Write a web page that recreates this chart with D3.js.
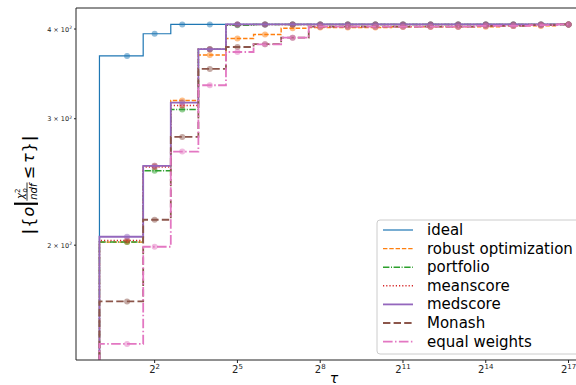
<!DOCTYPE html>
<html><head><meta charset="utf-8">
<script src="https://cdn.jsdelivr.net/npm/d3@7/dist/d3.min.js"></script>
<style>
body{margin:0;background:#fff;}
svg{display:block;font-family:"DejaVu Sans",sans-serif;}
</style>
</head><body>
<svg id="c" width="576" height="385"></svg>
<script>
// ---- data ----
const tauValues = [0,2,4,8,16,32,64,128,256,512,1024,2048,4096,8192,16384,32768,65536,131072];
const seriesNames = ["ideal","robust optimization","portfolio","meanscore","medscore","Monash","equal weights"];
const ideal      = [0,367,394,406,406,406,406,406,406,406,406,406,406,406,406,406,406,406];
const robust     = [0,202,258,318,368,388,393,401,402,402,402,403,403,403,403,404,404,406];
const portfolio  = [0,202,254,309,375,405,406,406,406,406,406,406,406,406,406,406,406,406];
const meanscore  = [0,203,257,313,375,406,406,406,406,406,406,406,406,406,406,406,406,406];
const medscore   = [0,205.5,258,316,375,406,406,406,406,406,406,406,406,406,406,406,406,406];
const monash     = [0,167,217,283,352,377.6,381,389,403,403,403,403,403,403,404,404,405,406];
const equalW     = [0,145.7,199,270,334,371.6,380.8,389,403,403,403,403,403,403,404,404,405,406];
const xTickExponents = [2,5,8,11,14,17];
const yTickValues = [200,300,400];
const yTickMantissas = ["2","3","4"];

const seriesValues = [ideal,robust,portfolio,meanscore,medscore,monash,equalW];
const colors = ["#1f77b4","#ff7f0e","#2ca02c","#d62728","#9467bd","#8c564b","#e377c2"];
const widths = [1.2,1.4,1.5,1.5,1.8,1.8,1.8];
const dashes = [null,"4.4,1.9","6.4,1.6,1,1.6","1.2,2",null,"7.4,3.2","9.6,2.4,1.5,2.4"];

// ---- layout ----
const L=76, R=592, T=8, B=360;
const svg = d3.select("#c");
const x = d3.scaleLog().base(2).domain([Math.pow(2,-0.85), Math.pow(2,17.85)]).range([L,R]);
const y = d3.scaleLog().domain([138.4, 427.9]).range([B,T]);
const yy = v => v>0 ? y(v) : B+20;

svg.append("defs").append("clipPath").attr("id","clip")
  .append("rect").attr("x",L).attr("y",T).attr("width",R-L).attr("height",B-T);

const plot = svg.append("g").attr("clip-path","url(#clip)");

function stepPath(vals){
  let d = `M${x((tauValues[0]+tauValues[1])/2)},${yy(vals[0])}`;
  for(let i=1;i<tauValues.length;i++){
    if(i>1) d += `H${x((tauValues[i-1]+tauValues[i])/2)}`;
    d += `V${yy(vals[i])}`;
  }
  d += `H${x(tauValues[tauValues.length-1])}`;
  return d;
}

seriesValues.forEach((vals,k)=>{
  plot.append("path").attr("d",stepPath(vals))
    .attr("fill","none").attr("stroke",colors[k]).attr("stroke-width",widths[k])
    .attr("stroke-dasharray",dashes[k]);
  plot.append("g").selectAll("circle").data(vals.slice(1).map((v,i)=>[tauValues[i+1],v]))
    .join("circle").attr("cx",d=>x(d[0])).attr("cy",d=>yy(d[1])).attr("r",3)
    .attr("fill",colors[k]).attr("opacity",0.5);
});

// ---- axes frame ----
const frame = svg.append("g").attr("stroke","#222").attr("stroke-width",1).attr("fill","none");
frame.append("line").attr("x1",L).attr("x2",L).attr("y1",T).attr("y2",B);
frame.append("line").attr("x1",L).attr("x2",R).attr("y1",B).attr("y2",B);
frame.append("line").attr("x1",L).attr("x2",R).attr("y1",T).attr("y2",T);
frame.append("line").attr("x1",R).attr("x2",R).attr("y1",T).attr("y2",B);

// x ticks
const xt = svg.append("g");
xTickExponents.forEach(e=>{
  const px = x(Math.pow(2,e));
  xt.append("line").attr("x1",px).attr("x2",px).attr("y1",B).attr("y2",B+3).attr("stroke","#222");
  const t = xt.append("text").attr("x",px).attr("y",B+13).attr("text-anchor","middle").attr("fill","#222");
  t.append("tspan").attr("font-size",10).text("2");
  t.append("tspan").attr("font-size",7).attr("dy",-4).text(e);
});
// y ticks
const yt = svg.append("g");
yTickValues.forEach((v,i)=>{
  const py = y(v);
  yt.append("line").attr("x1",L-2).attr("x2",L).attr("y1",py).attr("y2",py).attr("stroke","#222");
  const t = yt.append("text").attr("x",L-4).attr("y",py+2.5).attr("text-anchor","end").attr("fill","#222");
  t.append("tspan").attr("font-size",6.5).text(yTickMantissas[i]+" \u00d7 10");
  t.append("tspan").attr("font-size",4.5).attr("dy",-2.5).text("2");
});

// x label
svg.append("text").attr("x",(L+R)/2).attr("y",383).attr("text-anchor","middle")
  .attr("font-size",14).attr("font-style","italic").text("\u03c4");

// y label
const yl = svg.append("g").attr("transform","translate(34,185) rotate(-90)").attr("fill","#000");
let cx = 0;
function addText(str, opts){
  const t = yl.append("text").attr("x",cx).attr("y",opts.y||0).attr("font-size",opts.fs||16)
    .attr("font-style",opts.it?"italic":null).attr("font-weight",opts.bw||null).text(str);
  const w = t.node().getComputedTextLength();
  return {t,w};
}
let r;
r = addText("|",{bw:"bold"}); cx += r.w+1;
r = addText("{",{}); cx += r.w+1;
r = addText("o",{it:true}); cx += r.w+2;
const barX = cx+1;
cx += 4;
const fx0 = cx;
const num = yl.append("text").attr("x",0).attr("y",-10).attr("font-size",10);
num.append("tspan").attr("font-style","italic").text("\u03c7");
num.append("tspan").attr("font-size",7).attr("dy",-4).text("2");
num.append("tspan").attr("font-size",7).attr("dx",-4).attr("dy",7).attr("font-style","italic").text("o");
const den = yl.append("text").attr("x",0).attr("y",3).attr("font-size",10).attr("font-style","italic").text("ndf");
const nw = num.node().getComputedTextLength(), dw = den.node().getComputedTextLength();
const fw = Math.max(nw,dw)+2;
num.attr("x",fx0+(fw-nw)/2); den.attr("x",fx0+(fw-dw)/2);
const fracLine = {x1:fx0,x2:fx0+fw};
cx += fw+3;
r = addText("\u2264",{}); cx += r.w+3;
r = addText("\u03c4",{it:true}); cx += r.w+1;
r = addText("}",{}); cx += r.w+1;
r = addText("|",{bw:"bold"}); cx += r.w;
const total = cx;
yl.selectAll("text").each(function(){ const s=d3.select(this); s.attr("x", +s.attr("x")-total/2); });
yl.append("line").attr("x1",fracLine.x1-total/2).attr("x2",fracLine.x2-total/2).attr("y1",-7).attr("y2",-7)
  .attr("stroke","#000").attr("stroke-width",0.8);
yl.append("line").attr("x1",barX-total/2).attr("x2",barX-total/2).attr("y1",-20).attr("y2",4)
  .attr("stroke","#000").attr("stroke-width",2.2);

// ---- legend ----
const lg = svg.append("g");
lg.append("rect").attr("x",377).attr("y",220).attr("width",209).attr("height",134).attr("rx",3)
  .attr("fill","#fff").attr("fill-opacity",0.8).attr("stroke","#cccccc").attr("stroke-width",1);
seriesNames.forEach((n,k)=>{
  const ry = 230 + k*18.6;
  lg.append("line").attr("x1",383).attr("x2",413).attr("y1",ry).attr("y2",ry)
    .attr("stroke",colors[k]).attr("stroke-width",widths[k]).attr("stroke-dasharray",dashes[k]);
  lg.append("text").attr("x",427).attr("y",ry+5).attr("font-size",15).attr("fill","#000").text(n);
});
</script>
</body></html>
